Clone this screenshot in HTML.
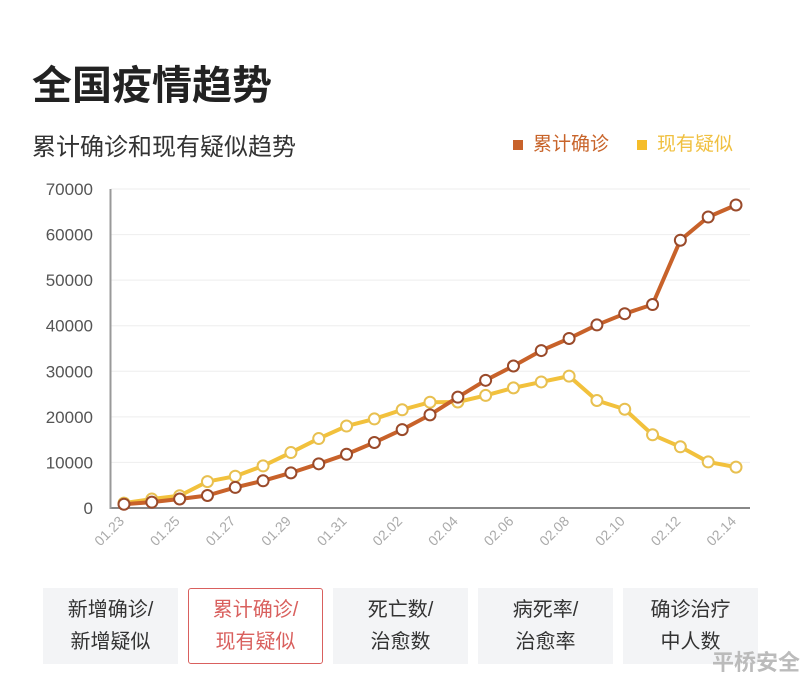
<!DOCTYPE html>
<html><head><meta charset="utf-8"><style>
body{margin:0;width:800px;height:676px;background:#fff;overflow:hidden;font-family:"Liberation Sans","Noto Sans CJK SC",sans-serif;position:relative}
.t{position:absolute;white-space:nowrap}
.btn{position:absolute;top:588px;height:76px;width:135px;background:#f3f4f6;color:#333;font-size:20px;line-height:32px;text-align:center;display:flex;align-items:center;justify-content:center;box-sizing:border-box}
.sel{background:#fff;border:1.5px solid #d9605e;color:#d9605e;border-radius:3px}
</style></head><body>
<div class="t" style="left:32px;top:53px;font-size:40px;font-weight:bold;color:#222">全国疫情趋势</div>
<div class="t" style="left:32px;top:127px;font-size:24px;color:#333">累计确诊和现有疑似趋势</div>
<div class="t" style="left:513px;top:129px;font-size:19px;color:#c8642a"><span style="display:inline-block;width:10px;height:10px;background:#c8622a;margin-right:10px"></span>累计确诊</div>
<div class="t" style="left:637px;top:129px;font-size:19px;color:#f0c040"><span style="display:inline-block;width:10px;height:10px;background:#f5bd2a;margin-right:10px"></span>现有疑似</div>
<svg id="chart" width="800" height="580" style="position:absolute;left:0;top:0"></svg>
<div class="btn" style="left:43px">新增确诊/<br>新增疑似</div>
<div class="btn sel" style="left:188px">累计确诊/<br>现有疑似</div>
<div class="btn" style="left:333px">死亡数/<br>治愈数</div>
<div class="btn" style="left:478px">病死率/<br>治愈率</div>
<div class="btn" style="left:623px">确诊治疗<br>中人数</div>
<div class="t" style="left:712px;top:645px;font-size:22px;font-weight:bold;color:#bbb">平桥安全</div>
<script>
const dates=["01.23","01.24","01.25","01.26","01.27","01.28","01.29","01.30","01.31","02.01","02.02","02.03","02.04","02.05","02.06","02.07","02.08","02.09","02.10","02.11","02.12","02.13","02.14"];
const confirmed=[830,1287,1975,2744,4515,5974,7711,9692,11791,14380,17205,20438,24324,28018,31161,34546,37198,40171,42638,44653,58761,63851,66492];
const suspected=[1072,1965,2684,5794,6973,9239,12167,15238,17988,19544,21558,23214,23260,24702,26359,27657,28942,23589,21675,16067,13435,10109,8969];
const yTicks=[0,10000,20000,30000,40000,50000,60000,70000];
const svg=document.getElementById('chart');const NS='http://www.w3.org/2000/svg';
const X=i=>124+i*(612/(dates.length-1));const Y=v=>508-v*(319/70000);
function mk(t,a){const e=document.createElementNS(NS,t);for(const k in a)e.setAttribute(k,a[k]);svg.appendChild(e);return e;}
yTicks.forEach(v=>{const g=mk('line',{x1:111,x2:750,y1:Y(v),y2:Y(v),stroke:v?'#eee':'#888','stroke-width':v?1:2});


const t=mk('text',{x:93,y:Y(v)+6,'text-anchor':'end','font-size':17,fill:'#555'});t.textContent=v;

});
const ax=mk('line',{x1:110.5,x2:110.5,y1:189,y2:509,stroke:'#999','stroke-width':2});


dates.forEach((d,i)=>{if(i%2)return;const t=mk('text',{x:X(i)+1,y:522,'text-anchor':'end','font-size':14,fill:'#aaa',transform:`rotate(-45 ${X(i)+1} 522)`});t.textContent=d;

});
function series(vals,color,stroke,name){const p=mk('polyline',{points:vals.map((v,i)=>X(i)+','+Y(v)).join(' '),fill:'none',stroke:color,'stroke-width':4,'stroke-linejoin':'round'});


vals.forEach((v,i)=>{const c=mk('circle',{cx:X(i),cy:Y(v),r:5.5,fill:'#fff',stroke:stroke,'stroke-width':2});

});}
series(suspected,'#f2c13c','#e8c050','suspected');
series(confirmed,'#c8622a','#9a4a2a','confirmed');
</script>
</body></html>
